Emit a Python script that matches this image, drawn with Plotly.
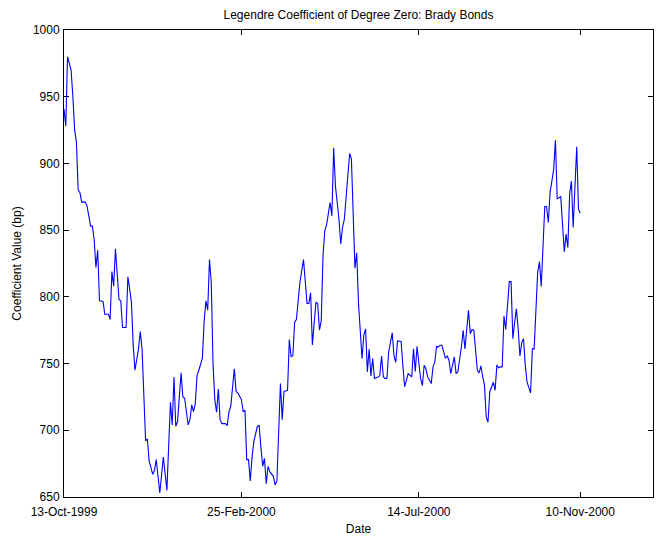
import plotly.graph_objects as go

# Trading-day index (0 = 13-Oct-1999) and Legendre degree-zero coefficient (bp)
day = [0, 1, 2, 4, 5, 6, 7, 8, 9, 10, 12, 13, 15, 16, 17, 18, 19, 20, 22, 23,
       25, 26, 27, 28, 29, 30, 31, 32, 33, 35, 36, 37, 38, 39, 40, 42, 43, 44, 45, 46,
       47, 48, 50, 51, 52, 54, 56, 58, 60, 61, 62, 63, 64, 65, 66, 67, 68, 70, 71, 72,
       73, 74, 75, 76, 78, 79, 80, 81, 82, 83, 84, 85, 86, 87, 88, 89, 91, 92, 93, 94,
       95, 96, 97, 98, 100, 101, 102, 103, 104, 105, 106, 107, 109, 110, 111, 112, 113, 114, 115, 116,
       118, 119, 120, 121, 122, 123, 124, 126, 127, 128, 129, 130, 131, 132, 133, 135, 136, 137, 138, 139,
       140, 141, 142, 143, 144, 145, 146, 147, 148, 150, 151, 152, 153, 154, 155, 156, 157, 158, 160, 161,
       162, 163, 164, 165, 166, 168, 169, 170, 171, 172, 173, 174, 175, 177, 178, 179, 180, 181, 182, 183,
       185, 186, 187, 188, 189, 190, 191, 192, 194, 195, 196, 197, 198, 199, 200, 201, 202, 203, 204, 205,
       207, 208, 209, 210, 211, 212, 213, 215, 216, 217, 218, 219, 220, 221, 222, 224, 225, 226, 227, 228,
       229, 230, 231, 233, 234, 235, 236, 237, 238, 239, 240, 242, 243, 244, 245, 246, 247, 248, 249, 251,
       252, 253, 254, 255, 256, 257, 258, 259, 260, 261, 263, 264, 265, 266, 267, 268, 269, 271, 272, 273,
       274, 275, 276, 277, 278, 280, 281, 282, 283, 284, 285, 286, 287, 289, 290, 291]

coef = [941, 928, 980, 970, 950, 925, 916, 880, 878, 871, 871, 868, 853, 853, 843, 822, 835, 797, 796.5, 787,
        787, 783, 819, 808, 836, 813, 798, 797, 777, 777, 815, 806, 796, 764, 745, 761, 774, 761, 729, 692,
        693.5, 677, 667, 670, 678, 653, 680, 655, 721, 704, 740, 703, 706.5, 726, 743, 725, 724, 704, 708, 719,
        714, 720, 741, 745, 754, 782, 797, 790, 828, 811, 750, 723, 713.5, 731, 708, 705, 705, 703.5, 714, 718,
        731, 746, 729, 728, 723, 714, 715, 678, 678, 662, 680, 691.5, 703, 703.5, 687, 673, 679, 660, 673, 669,
        665.5, 659, 662, 698, 735, 708, 729, 730, 768, 755, 756, 781, 783, 797, 811, 828, 810, 795, 795, 803,
        764, 782, 796, 795, 775, 782, 831, 849.5, 854, 870.7, 860.7, 911.7, 883, 870.7, 858, 839.6, 852, 858, 891.8, 907.5,
        903.5, 868, 821.4, 833, 795, 753.7, 771.6, 776, 743.8, 760.7, 740.8, 753.7, 738.8, 740, 741, 755.7, 740, 738.8, 738.8, 758.7,
        773, 756, 751, 767, 767, 766.6, 748.7, 732.6, 742.5, 741, 740, 761, 744, 763, 752.5, 738.8, 733.4, 748.7, 746, 740,
        735, 747.5, 751, 763, 762.4, 763.7, 763.7, 754, 755.7, 752.5, 742.5, 748.7, 755, 742.5, 743.8, 762.4, 774.9, 761, 778.6, 790,
        772.4, 775.6, 775, 745, 743, 748.3, 740, 733.8, 710, 706, 728.9, 736, 730, 749, 746.8, 747.5, 747.5, 785.6, 775.6, 811.4,
        811.4, 768.7, 780.6, 791, 776, 755.7, 765.7, 768.7, 748.7, 736, 728, 761, 761, 793.5, 818.4, 826.4, 807.7, 867.7, 867.7, 855.7,
        878.6, 886.8, 895.5, 917.4, 873.6, 875.1, 854.5, 833.8, 847, 837, 876.9, 886.8, 852, 912.5, 865.7, 862.7]

tick_days = [0, 100, 200, 291]
tick_text = ["13-Oct-1999", "25-Feb-2000", "14-Jul-2000", "10-Nov-2000"]
y_ticks = [650, 700, 750, 800, 850, 900, 950, 1000]

FONT = "Liberation Sans, Arial, sans-serif"

fig = go.Figure()
fig.add_trace(go.Scatter(
    x=day, y=coef, mode="lines",
    line=dict(color="#0000FF", width=1.1),
    showlegend=False, hoverinfo="skip",
))

axis_common = dict(
    showline=True, linecolor="black", linewidth=1, mirror="allticks",
    ticks="inside", ticklen=5, tickcolor="black", tickwidth=1,
    showgrid=False, zeroline=False, automargin=False,
    tickfont=dict(family=FONT, size=12, color="black"),
    title_font=dict(family=FONT, size=12, color="black"),
)

fig.update_xaxes(
    range=[0, 332], tickmode="array", tickvals=tick_days, ticktext=tick_text,
    ticklabelstandoff=4,
    title_text="Date", title_standoff=6, **axis_common,
)
fig.update_yaxes(
    range=[650, 1000], tickmode="array", tickvals=y_ticks,
    ticklabelstandoff=1,
    title_text="Coefficient Value (bp)", title_standoff=8, **axis_common,
)

fig.update_layout(
    width=663, height=540,
    margin=dict(l=64, r=10, t=30, b=43),
    paper_bgcolor="white", plot_bgcolor="white",
    title=dict(
        text="Legendre Coefficient of Degree Zero: Brady Bonds",
        x=0.5, xref="paper", xanchor="center",
        y=1 - 15 / 540, yref="container", yanchor="middle",
        font=dict(family=FONT, size=12, color="black"),
    ),
)

fig.write_html("out.html")
